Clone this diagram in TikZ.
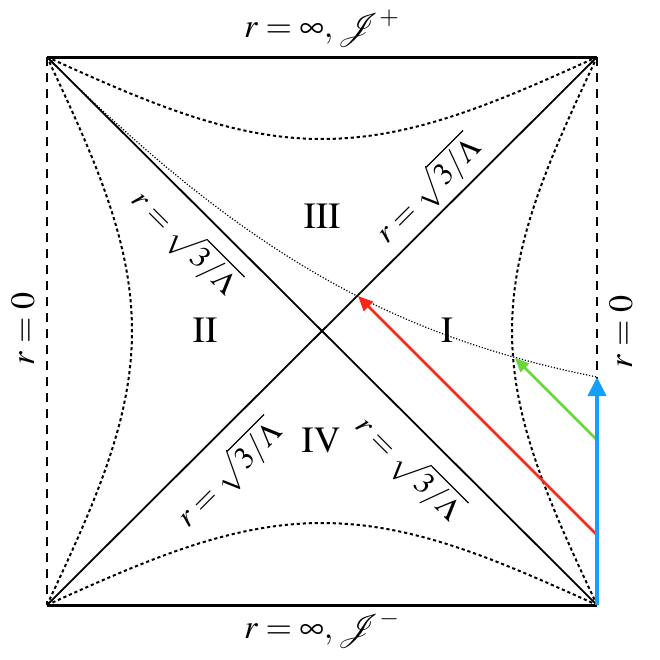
\documentclass[tikz,border=0pt]{standalone}
\usepackage{mathptmx}
\usetikzlibrary{arrows.meta}
\definecolor{skyb}{RGB}{20,160,250}
\definecolor{redl}{RGB}{250,40,25}
\definecolor{greenl}{RGB}{105,215,55}
\tikzset{
  edgeline/.style={line width=1.5pt},
  sideline/.style={line width=1pt, dash pattern=on 4.5pt off 3.5pt},
  horizon/.style={line width=0.9pt},
  rcurve/.style={line width=1pt, dash pattern=on 1.6pt off 1.4pt},
  slice/.style={line width=0.6pt, dash pattern=on 0.6pt off 0.9pt},
  lbl/.style={inner sep=0pt, font=\fontsize{17}{19}\selectfont},
  hlbl/.style={inner sep=0pt, font=\fontsize{15.5}{17}\selectfont},
  reg/.style={inner sep=0pt, font=\fontsize{18.5}{20}\selectfont},
}
\begin{document}
\begin{tikzpicture}[x=0.5pt,y=-0.5pt]
\useasboundingbox (0,0) rectangle (660,660);
\coordinate (TL) at (47,57);
\coordinate (TR) at (597,57);
\coordinate (BL) at (47,605);
\coordinate (BR) at (597,605);
\coordinate (R0) at (597,535);
\coordinate (R1) at (358,296);
\coordinate (G0) at (597,440);
\coordinate (G1) at (515,358);
\coordinate (B1) at (597,377);
% square
\draw[edgeline] (TL) -- (TR);
\draw[edgeline] (BL) -- (BR);
\draw[sideline] (TL) -- (BL);
\draw[sideline] (TR) -- (BR);
% horizons
\draw[horizon] (TL) -- (BR);
\draw[horizon] (BL) -- (TR);
% constant r curves
\draw[rcurve] plot[domain=-90:90, samples=120, smooth, variable=\vt]
  ({597-3.0556*asin(0.4666*cos(\vt))}, {331-3.0444*\vt});
\draw[rcurve] plot[domain=-90:90, samples=120, smooth, variable=\vt]
  ({47+3.0556*asin(0.4666*cos(\vt))}, {331-3.0444*\vt});
\draw[rcurve] plot[domain=0:180, samples=120, smooth, variable=\vc]
  ({47+3.0556*\vc}, {331-3.0444*acos(sin(\vc)/2.208)});
\draw[rcurve] plot[domain=0:180, samples=120, smooth, variable=\vc]
  ({47+3.0556*\vc}, {331+3.0444*acos(sin(\vc)/2.208)});
% slice
\draw[slice] (TL) .. controls (247,257) and (397,337) .. (B1);
% arrows
\draw[redl, line width=1.4pt, -{Triangle[length=7.5pt,width=6.5pt]}] (R0) -- (R1);
\draw[greenl, line width=1.3pt, -{Triangle[length=7pt,width=6pt]}] (G0) -- (G1);
\draw[skyb, line width=2pt, -{Triangle[length=9.5pt,width=9pt]}] (BR) -- (B1);
% labels
\node[lbl, anchor=base] (top) at (322,37) {$r=\infty,\mathcal{J}^{+}$};
\node[lbl, anchor=base] (bot) at (322,638) {$r=\infty,\mathcal{J}^{-}$};
\node[lbl, rotate=90] (left0) at (23,329) {$r=0$};
\node[lbl, rotate=90] (right0) at (621,332) {$r=0$};
\node[reg] (III) at (322,216) {$\mathrm{III}$};
\node[reg] (II) at (205,330) {$\mathrm{II}$};
\node[reg] (I) at (447,330) {$\mathrm{I}$};
\node[reg] (IV) at (321,440) {$\mathrm{IV}$};
\node[hlbl, rotate=-45] (hUL) at (185,242) {$r=\sqrt{3/\Lambda}$};
\node[hlbl, rotate=45] (hUR) at (428,190) {$r=\sqrt{3/\Lambda}$};
\node[hlbl, rotate=45] (hLL) at (229,474) {$r=\sqrt{3/\Lambda}$};
\node[hlbl, rotate=-45] (hLR) at (409,468) {$r=\sqrt{3/\Lambda}$};
\end{tikzpicture}
\end{document}
